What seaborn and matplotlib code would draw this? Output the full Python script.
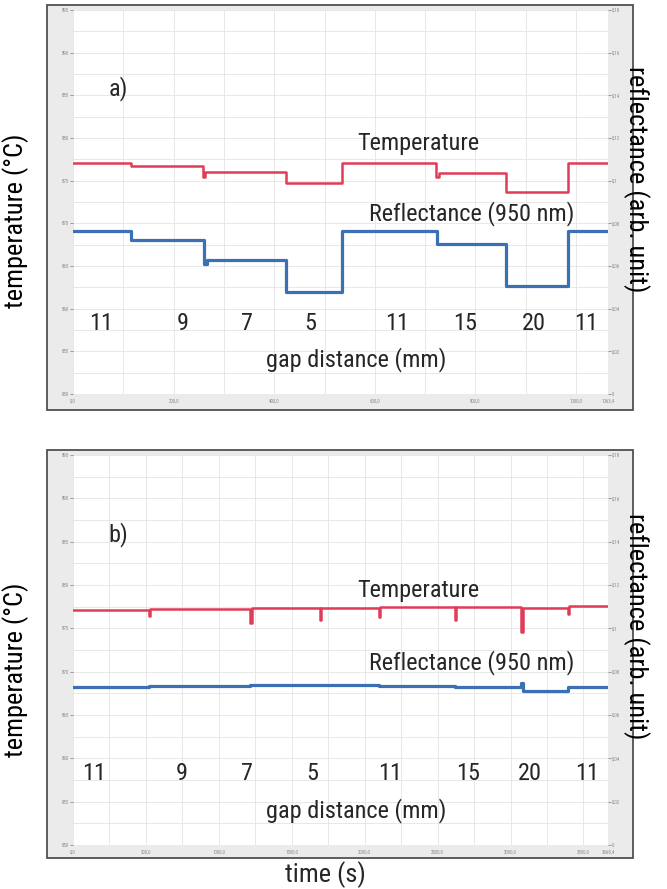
import matplotlib
matplotlib.use('Agg')
import matplotlib.pyplot as plt
import seaborn as sns
from matplotlib.patches import Rectangle
from matplotlib.ticker import FuncFormatter, MultipleLocator, FixedLocator

# ---- panel a: gap changed in steps (0 .. 1063.4 s)
time_a_temp = [0, 115, 258, 263, 423, 535, 721, 727, 861, 983, 1063.4]
temp_a = [877.1, 876.7, 875.4, 876.0, 874.7, 877.1, 875.4, 875.9, 873.7, 877.1, 877.1]
time_a_refl = [0, 115, 260, 266, 423, 535, 723, 861, 983, 1063.4]
refl_a = [0.0765, 0.0724, 0.0610, 0.0628, 0.0478, 0.0765, 0.0705, 0.0505, 0.0765, 0.0765]
xticks_a = [0, 200, 400, 600, 800, 1000, 1063.4]

# ---- panel b: same gap sequence over a longer run (0 .. 3668.4 s)
time_b_temp = [0, 521, 530, 1216, 1226, 1691, 1700, 2096, 2104, 2617, 2626,
               3074, 3084, 3391, 3400, 3668.4]
temp_b = [877.1, 876.4, 877.2, 875.6, 877.3, 876.0, 877.4, 876.3, 877.5, 876.0,
          877.5, 874.6, 877.4, 876.6, 877.6, 877.6]
time_b_refl = [0, 521, 1216, 1691, 2096, 2617, 3074, 3084, 3391, 3668.4]
refl_b = [0.0731, 0.0733, 0.0738, 0.0737, 0.0733, 0.0731, 0.0748, 0.0712, 0.0731, 0.0731]
xticks_b = [0, 500, 1000, 1500, 2000, 2500, 3000, 3500, 3668.4]

gap_labels = ['11', '9', '7', '5', '11', '15', '20', '11']
gap_pos_a = [0.052, 0.205, 0.325, 0.443, 0.605, 0.733, 0.862, 0.96]
gap_pos_b = [0.04, 0.204, 0.326, 0.447, 0.592, 0.738, 0.854, 0.961]

sns.set_theme(style='white')
plt.rcParams['font.family'] = ['Roboto Condensed', 'Liberation Sans Narrow',
                               'Liberation Sans', 'DejaVu Sans']

W, H = 667, 889
fig = plt.figure(figsize=(W / 100, H / 100), dpi=100)

RED = '#e03c58'
BLUE = '#3c70b4'
comma = lambda v, p: f'{v:g}'.replace('.', ',')
comma1 = lambda v, p: f'{v:.1f}'.replace('.', ',')
FS = 17.5


def panel(ftop, top, bottom, fbottom, t_temp, temp, t_refl, refl, xticks, xmax, xminor, tag, gpos):
    # grey frame of the acquisition software
    fig.patches.append(Rectangle((47 / W, 1 - fbottom / H), (633 - 47) / W,
                                 (fbottom - ftop) / H, transform=fig.transFigure,
                                 facecolor='#ebebeb', edgecolor='#505050', lw=1.3, zorder=-1))
    ax = fig.add_axes([73 / W, 1 - bottom / H, (608 - 73) / W, (bottom - top) / H])
    ax.set_facecolor('white')
    for s in ax.spines.values():
        s.set_visible(False)
    sns.lineplot(x=t_temp, y=temp, ax=ax, color=RED, linewidth=1.8,
                 drawstyle='steps-post', estimator=None)
    ax.set_xlim(0, xmax)
    ax.set_ylim(850, 895)
    ax.yaxis.set_major_locator(MultipleLocator(5))
    ax.yaxis.set_minor_locator(MultipleLocator(2.5))
    ax.xaxis.set_major_locator(FixedLocator(xticks))
    ax.xaxis.set_minor_locator(MultipleLocator(xminor))
    ax.xaxis.set_major_formatter(FuncFormatter(comma1))
    ax.grid(which='both', color='#e4e4e4', lw=0.6)
    ax.tick_params(axis='both', labelsize=3.5, colors='#8a8a8a', length=2, width=0.6, pad=1)
    ax.tick_params(which='minor', length=0)
    ax.set_ylabel('temperature (°C)', fontsize=19, color='black')
    ax.yaxis.set_label_coords(-0.082, 0.45)
    ax.set_xlabel('')

    ax2 = ax.twinx()
    sns.lineplot(x=t_refl, y=refl, ax=ax2, color=BLUE, linewidth=2.3,
                 drawstyle='steps-post', estimator=None)
    ax2.set_ylim(0, 0.18)
    ax2.yaxis.set_major_locator(MultipleLocator(0.02))
    ax2.yaxis.set_major_formatter(FuncFormatter(comma))
    ax2.tick_params(axis='y', labelsize=3.5, colors='#8a8a8a', length=2, width=0.6, pad=1)
    for s in ax2.spines.values():
        s.set_visible(False)
    ax2.grid(False)
    ax2.set_ylabel('reflectance (arb. unit)', fontsize=19, rotation=-90, color='black')
    ax2.yaxis.set_label_coords(1.078, 0.56)

    tr = ax.get_yaxis_transform()
    ax.text(0.085, 885.8, tag, transform=tr, fontsize=FS, ha='center', va='center')
    ax.text(0.645, 879.4, 'Temperature', transform=tr, fontsize=FS, ha='center', va='center')
    ax.text(0.745, 871.1, 'Reflectance (950 nm)', transform=tr, fontsize=FS, ha='center', va='center')
    for lab, xp in zip(gap_labels, gpos):
        ax.text(xp, 858.3, lab, transform=tr, fontsize=FS, ha='center', va='center')
    ax.text(0.53, 854.0, 'gap distance (mm)', transform=tr, fontsize=FS, ha='center', va='center')
    return ax


panel(5, 10, 394, 410, time_a_temp, temp_a, time_a_refl, refl_a, xticks_a, 1063.4, 100, 'a)', gap_pos_a)
panel(450, 455, 845, 858, time_b_temp, temp_b, time_b_refl, refl_b, xticks_b, 3668.4, 250, 'b)', gap_pos_b)

fig.text(325 / W, 1 - 875 / H, 'time (s)', fontsize=19, ha='center', va='center')

fig.savefig('out.png', dpi=100)
